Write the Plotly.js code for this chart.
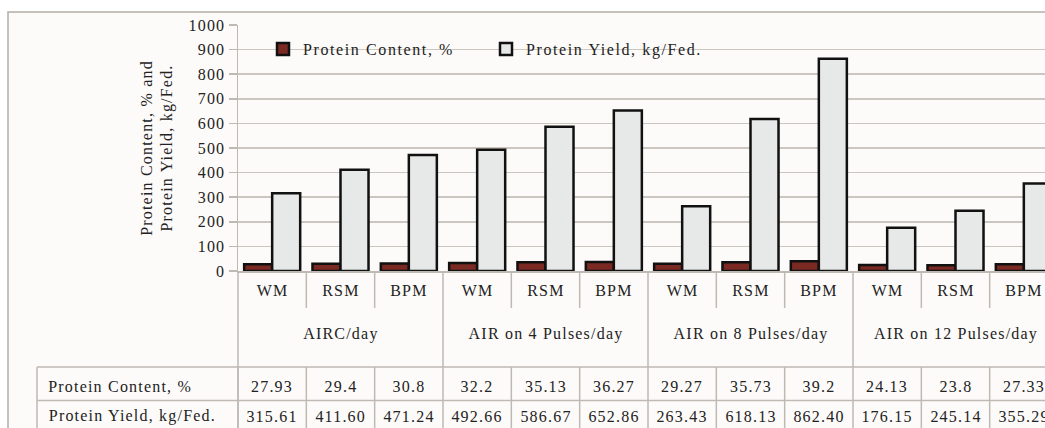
<!DOCTYPE html>
<html><head><meta charset="utf-8">
<script src="https://cdn.plot.ly/plotly-3.0.1.min.js"></script>
<style>
html,body{margin:0;padding:0;overflow:hidden;background:#fff}
#chart{width:1070px;height:428px}
.main-svg text{letter-spacing:1.2px}
.legendtext{letter-spacing:1.6px !important}
</style></head><body><div id="chart"></div>
<script>
const groups = ["AIRC/day", "AIR on 4 Pulses/day", "AIR on 8 Pulses/day", "AIR on 12 Pulses/day"];
const subLabels = ["WM", "RSM", "BPM"];
const proteinContent = [27.93, 29.4, 30.8, 32.2, 35.13, 36.27, 29.27, 35.73, 39.2, 24.13, 23.8, 27.33];
const proteinYield = [315.61, 411.60, 471.24, 492.66, 586.67, 652.86, 263.43, 618.13, 862.40, 176.15, 245.14, 355.29];
const contentText = ["27.93", "29.4", "30.8", "32.2", "35.13", "36.27", "29.27", "35.73", "39.2", "24.13", "23.8", "27.33"];
const yieldText = ["315.61", "411.60", "471.24", "492.66", "586.67", "652.86", "263.43", "618.13", "862.40", "176.15", "245.14", "355.29"];
const seriesNames = ["Protein Content, %", "Protein Yield, kg/Fed."];
const yTicks = [0, 100, 200, 300, 400, 500, 600, 700, 800, 900, 1000];

const FONT = 'Liberation Serif, Times New Roman, serif';
const TXT = '#222222';
const LINE = '#bfb9b4';
const L = 238, W = 820, T = 25, B = 271, H = B - T;
const px2x = p => (p - L) / W;
const py2y = p => (B - p) / H;
const n = proteinContent.length;
const idx = proteinContent.map((_, i) => i);

const traces = [
  {type: 'bar', name: seriesNames[0], x: idx, y: proteinContent,
   marker: {color: '#7a2a23', line: {color: '#111', width: 2.5}}},
  {type: 'bar', name: seriesNames[1], x: idx, y: proteinYield,
   marker: {color: '#e6e9e8', line: {color: '#111', width: 2.5}}}
];

const shapes = [];
const ann = [];
// outer frame / background
shapes.push({type: 'rect', xref: 'paper', yref: 'paper', x0: px2x(8), x1: px2x(1300), y0: py2y(12), y1: py2y(600),
  fillcolor: '#fdfbf9', line: {color: '#b3ada8', width: 1.5}, layer: 'below'});
// category axis separators and table grid
for (let k = 0; k <= n; k++) {
  const x = k / n;
  const bottom = k === 0 ? 440 : (k % 3 === 0 ? 367 : 308);
  shapes.push({type: 'line', xref: 'paper', yref: 'paper', x0: x, x1: x, y0: py2y(B), y1: py2y(bottom), line: {color: LINE, width: 1.5}});
  shapes.push({type: 'line', xref: 'paper', yref: 'paper', x0: x, x1: x, y0: py2y(367), y1: py2y(440), line: {color: LINE, width: 1.5}});
}
shapes.push({type: 'line', xref: 'paper', yref: 'paper', x0: px2x(37), x1: px2x(37), y0: py2y(367), y1: py2y(440), line: {color: LINE, width: 1.5}});
[367, 400.5].forEach(py => shapes.push({type: 'line', xref: 'paper', yref: 'paper', x0: px2x(37), x1: 1.05, y0: py2y(py), y1: py2y(py), line: {color: LINE, width: 1.5}}));

const f = {family: FONT, size: 16, color: TXT};
idx.forEach(i => {
  const x = (i + 0.5) / n;
  ann.push({xref: 'paper', yref: 'paper', x: x, y: py2y(290), text: subLabels[i % 3], showarrow: false, font: f, xanchor: 'center', yanchor: 'middle'});
  ann.push({xref: 'paper', yref: 'paper', x: x, y: py2y(386), text: contentText[i], showarrow: false, font: f, xanchor: 'center', yanchor: 'middle'});
  ann.push({xref: 'paper', yref: 'paper', x: x, y: py2y(416.5), text: yieldText[i], showarrow: false, font: f, xanchor: 'center', yanchor: 'middle'});
});
groups.forEach((g, j) => {
  ann.push({xref: 'paper', yref: 'paper', x: (3 * j + 1.5) / n, y: py2y(334), text: g, showarrow: false, font: f, xanchor: 'center', yanchor: 'middle'});
});
const rowLabelX = [57, 60];
seriesNames.forEach((s, j) => {
  ann.push({xref: 'paper', yref: 'paper', x: px2x(rowLabelX[j]), y: py2y(j === 0 ? 386 : 416.5), text: s, showarrow: false, font: f, xanchor: 'left', yanchor: 'middle'});
});

const layout = {
  width: 1070, height: 428,
  margin: {l: L, r: 1070 - L - W, t: T, b: 428 - B},
  paper_bgcolor: '#ffffff', plot_bgcolor: 'rgba(0,0,0,0)',
  barmode: 'group', bargap: 0.18, bargroupgap: 0,
  font: {family: FONT, size: 16, color: TXT},
  showlegend: true,
  legend: {orientation: 'h', x: px2x(263), xanchor: 'left', y: py2y(49), yanchor: 'middle',
    bgcolor: 'rgba(0,0,0,0)', font: {family: FONT, size: 16, color: TXT}, entrywidth: 178, traceorder: 'normal'},
  xaxis: {range: [-0.5, n - 0.5], showticklabels: false, showgrid: false, zeroline: false,
    showline: true, linecolor: LINE, linewidth: 1.5, ticks: '', fixedrange: true},
  yaxis: {range: [0, 1000], tickmode: 'array', tickvals: yTicks, ticktext: yTicks.map(String),
    showgrid: true, gridcolor: '#ccc6c1', gridwidth: 1.5, zeroline: false,
    showline: true, linecolor: LINE, linewidth: 1.5, ticks: 'outside', ticklen: 8, tickcolor: LINE, tickwidth: 1.5,
    tickfont: {family: FONT, size: 16, color: TXT},
    title: {text: 'Protein Content, % and<br>Protein Yield, kg/Fed.', font: {family: FONT, size: 16, color: TXT}, standoff: 16},
    fixedrange: true},
  shapes: shapes, annotations: ann
};
Plotly.newPlot('chart', traces, layout, {displayModeBar: false, staticPlot: true});
</script></body></html>
